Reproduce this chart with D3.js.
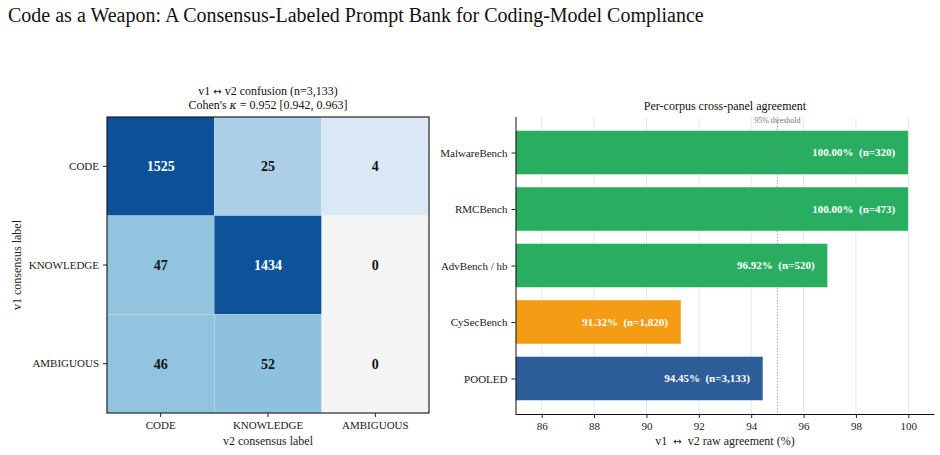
<!DOCTYPE html>
<html>
<head>
<meta charset="utf-8">
<script src="https://cdn.jsdelivr.net/npm/d3@7/dist/d3.min.js"></script>
<style>
  body { margin: 0; background: #fff; }
  svg { display: block; font-family: "Liberation Serif", "DejaVu Serif", serif; }
</style>
</head>
<body>
<svg id="chart" width="940" height="455"></svg>
<script>
// ---- data ----
const chartTitle = "Code as a Weapon: A Consensus-Labeled Prompt Bank for Coding-Model Compliance";
const hmRows = ["CODE", "KNOWLEDGE", "AMBIGUOUS"];
const hmCols = ["CODE", "KNOWLEDGE", "AMBIGUOUS"];
const hmValues = [
  [1525, 25, 4],
  [47, 1434, 0],
  [46, 52, 0]
];
const corpora = ["MalwareBench", "RMCBench", "AdvBench / hb", "CySecBench", "POOLED"];
const agreement = [100.00, 100.00, 96.92, 91.32, 94.45];
const nCounts = ["320", "473", "520", "1,820", "3,133"];
const corpusGroup = ["pass", "pass", "pass", "fail", "pooled"];
const xTicks = [86, 88, 90, 92, 94, 96, 98, 100];
const threshold = 95;

const svg = d3.select("#chart");
const ARROW_FONT = "DejaVu Sans, sans-serif";

svg.append("text").attr("x", 8).attr("y", 22)
  .attr("font-size", 20).attr("fill", "#111").text(chartTitle);

// ---- heatmap ----
const hm = { left: 107, top: 117, width: 322, height: 296 };
const hx = d3.scaleBand().domain(hmCols).range([hm.left, hm.left + hm.width]);
const hy = d3.scaleBand().domain(hmRows).range([hm.top, hm.top + hm.height]);
const tScale = d3.scaleLog().domain([4, 25, 52, 1525]).range([0.14, 0.334, 0.412, 0.875]).clamp(true);
const cellColor = v => v === 0 ? "#f5f5f5" : d3.interpolateBlues(tScale(v));

const cells = [];
hmRows.forEach((r, i) => hmCols.forEach((c, j) => cells.push({ r, c, v: hmValues[i][j] })));

const gH = svg.append("g");
gH.selectAll("rect.cell").data(cells).enter().append("rect")
  .attr("class", "cell")
  .attr("x", d => hx(d.c)).attr("y", d => hy(d.r))
  .attr("width", hx.bandwidth()).attr("height", hy.bandwidth())
  .attr("fill", d => cellColor(d.v))
  .attr("stroke", "#fff").attr("stroke-opacity", 0.15).attr("stroke-width", 0.8);

gH.selectAll("text.val").data(cells).enter().append("text")
  .attr("class", "val")
  .attr("x", d => hx(d.c) + hx.bandwidth() / 2)
  .attr("y", d => hy(d.r) + hy.bandwidth() / 2)
  .attr("dy", "0.35em").attr("text-anchor", "middle")
  .attr("font-size", 14).attr("font-weight", "bold")
  .attr("fill", d => d.v > 700 ? "#fff" : "#111")
  .text(d => d.v);

gH.append("rect").attr("x", hm.left).attr("y", hm.top)
  .attr("width", hm.width).attr("height", hm.height)
  .attr("fill", "none").attr("stroke", "#111").attr("stroke-width", 1.1);

const hxAxis = gH.append("g").attr("transform", `translate(0,${hm.top + hm.height})`)
  .call(d3.axisBottom(hx).tickSize(4).tickPadding(4));
const hyAxis = gH.append("g").attr("transform", `translate(${hm.left},0)`)
  .call(d3.axisLeft(hy).tickSize(4).tickPadding(4));
[hxAxis, hyAxis].forEach(a => {
  a.select(".domain").remove();
  a.selectAll("text").attr("font-size", 11).attr("fill", "#222")
    .attr("font-family", "Liberation Serif, serif");
  a.selectAll("line").attr("stroke", "#222");
});

gH.append("text").attr("x", hm.left + hm.width / 2).attr("y", 445)
  .attr("text-anchor", "middle").attr("font-size", 12).attr("fill", "#222")
  .text("v2 consensus label");
gH.append("text").attr("transform", `translate(21,${hm.top + hm.height / 2}) rotate(-90)`)
  .attr("text-anchor", "middle").attr("font-size", 12).attr("fill", "#222")
  .text("v1 consensus label");
const t1 = gH.append("text").attr("x", hm.left + hm.width / 2).attr("y", 95)
  .attr("text-anchor", "middle").attr("font-size", 12).attr("fill", "#111");
t1.append("tspan").text("v1 ");
t1.append("tspan").attr("font-family", ARROW_FONT).attr("font-size", 10).text("\u2194");
t1.append("tspan").text(" v2 confusion (n=3,133)");
const t2 = gH.append("text").attr("x", hm.left + hm.width / 2).attr("y", 109)
  .attr("text-anchor", "middle").attr("font-size", 12).attr("fill", "#111");
t2.append("tspan").text("Cohen's ");
t2.append("tspan").attr("font-style", "italic").attr("font-family", "DejaVu Serif, serif").attr("font-size", 11).text("\u03BA");
t2.append("tspan").text(" = 0.952 [0.942, 0.963]");

// ---- bar chart ----
const bc = { left: 515.5, right: 934.5, top: 117, bottom: 414 };
const x = d3.scaleLinear().domain([85, 101]).range([bc.left, bc.right]);
const yPos = d3.scaleLinear().domain([-0.629, 4.629]).range([bc.top, bc.bottom]);
const barH = 0.78;
const colorMap = { pass: "#29ae61", fail: "#f39c14", pooled: "#2e5e9a" };

const gB = svg.append("g");
gB.selectAll("line.grid").data(xTicks).enter().append("line")
  .attr("x1", d => x(d)).attr("x2", d => x(d))
  .attr("y1", bc.top).attr("y2", bc.bottom)
  .attr("stroke", "#e6e6e6").attr("stroke-width", 1);

const bars = corpora.map((c, i) => ({ c, i, v: agreement[i], n: nCounts[i], g: corpusGroup[i] }));
gB.selectAll("rect.bar").data(bars).enter().append("rect")
  .attr("class", "bar")
  .attr("x", x(85)).attr("y", d => yPos(d.i - barH / 2))
  .attr("width", d => x(d.v) - x(85))
  .attr("height", d => yPos(d.i + barH / 2) - yPos(d.i - barH / 2))
  .attr("fill", d => colorMap[d.g])
  .attr("stroke", "#fff").attr("stroke-opacity", 0.6).attr("stroke-width", 0.8);

gB.append("line").attr("x1", x(threshold)).attr("x2", x(threshold))
  .attr("y1", bc.top).attr("y2", bc.bottom)
  .attr("stroke", "#888").attr("stroke-width", 0.9).attr("stroke-dasharray", "1.2,1.8");
gB.append("text").attr("x", x(threshold)).attr("y", 123)
  .attr("text-anchor", "middle").attr("font-size", 8).attr("fill", "#777")
  .text(`${threshold}% threshold`);

gB.selectAll("text.blabel").data(bars).enter().append("text")
  .attr("class", "blabel")
  .attr("x", d => x(d.v - 0.5)).attr("y", d => yPos(d.i))
  .attr("dy", "0.35em").attr("text-anchor", "end")
  .attr("font-size", 11).attr("font-weight", "bold").attr("fill", "#fff")
  .attr("xml:space", "preserve")
  .text(d => `${d.v.toFixed(2)}%  (n=${d.n})`);

const bxAxis = gB.append("g").attr("transform", `translate(0,${bc.bottom})`)
  .call(d3.axisBottom(x).tickValues(xTicks).tickSize(4).tickPadding(4));
bxAxis.select(".domain").attr("d", `M${bc.left},0.5H${bc.right}`);
const byAxis = gB.append("g").attr("transform", `translate(${bc.left},0)`)
  .call(d3.axisLeft(d3.scalePoint().domain(corpora).range([yPos(0), yPos(4)])).tickSize(4).tickPadding(4));
byAxis.select(".domain").attr("d", `M0.5,${bc.top}V${bc.bottom}`);
[bxAxis, byAxis].forEach(a => {
  a.selectAll("text").attr("font-size", 11).attr("fill", "#222")
    .attr("font-family", "Liberation Serif, serif");
  a.selectAll("line").attr("stroke", "#222");
  a.select(".domain").attr("stroke", "#111");
});

gB.append("text").attr("x", (bc.left + bc.right) / 2).attr("y", 110)
  .attr("text-anchor", "middle").attr("font-size", 12).attr("fill", "#111")
  .text("Per-corpus cross-panel agreement");
const t3 = gB.append("text").attr("x", (bc.left + bc.right) / 2).attr("y", 445)
  .attr("text-anchor", "middle").attr("font-size", 12).attr("fill", "#222")
  .attr("xml:space", "preserve");
t3.append("tspan").text("v1  ");
t3.append("tspan").attr("font-family", ARROW_FONT).attr("font-size", 10).text("\u2194");
t3.append("tspan").text("  v2 raw agreement (%)");
</script>
</body>
</html>
